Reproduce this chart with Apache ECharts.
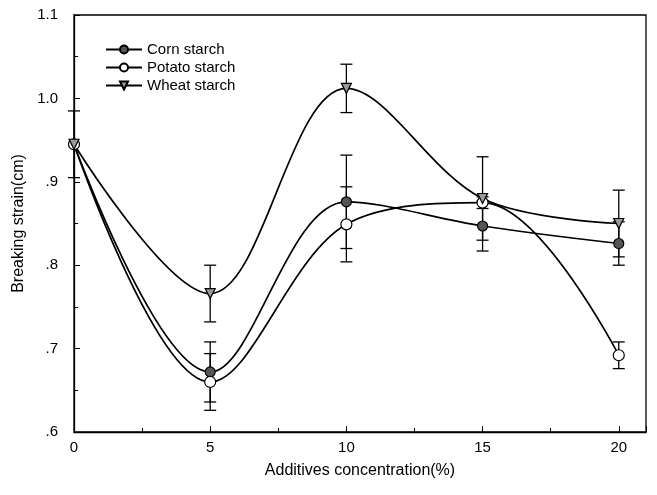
<!DOCTYPE html>
<html>
<head>
<meta charset="utf-8">
<script src="https://cdn.jsdelivr.net/npm/echarts@6/dist/echarts.min.js"></script>
<style>html,body{margin:0;padding:0;background:#fff}#c{width:657px;height:495px}</style>
</head>
<body>
<div id="c"></div>
<script>
var concentrations = [0, 5, 10, 15, 20];
var cornValues   = [0.945, 0.672, 0.876, 0.847, 0.826];
var potatoValues = [0.945, 0.660, 0.849, 0.875, 0.692];
var wheatValues  = [0.945, 0.766, 1.012, 0.880, 0.850];
var cornErr   = [0.000, 0.036, 0.056, 0.030, 0.026];
var potatoErr = [0.000, 0.034, 0.045, 0.007, 0.016];
var wheatErr  = [0.040, 0.034, 0.029, 0.050, 0.040];
var yTicks = [0.6, 0.7, 0.8, 0.9, 1.0, 1.1];
var yTickLabels = ['.6', '.7', '.8', '.9', '1.0', '1.1'];
var seriesNames = ['Corn starch', 'Potato starch', 'Wheat starch'];

function errData(vals, errs) {
  var out = [];
  for (var i = 0; i < concentrations.length; i++) {
    if (errs[i] > 0) out.push([concentrations[i], vals[i] - errs[i], vals[i] + errs[i]]);
  }
  return out;
}
function errSeries(vals, errs) {
  return {
    type: 'custom',
    silent: true,
    z: 1,
    data: errData(vals, errs),
    renderItem: function (params, api) {
      var x = api.value(0);
      var lo = api.coord([x, api.value(1)]);
      var hi = api.coord([x, api.value(2)]);
      var w = 6;
      var st = {stroke: '#000', lineWidth: 1.3};
      return {
        type: 'group',
        children: [
          {type: 'line', shape: {x1: lo[0], y1: lo[1], x2: hi[0], y2: hi[1]}, style: st},
          {type: 'line', shape: {x1: lo[0] - w, y1: lo[1], x2: lo[0] + w, y2: lo[1]}, style: st},
          {type: 'line', shape: {x1: hi[0] - w, y1: hi[1], x2: hi[0] + w, y2: hi[1]}, style: st}
        ]
      };
    }
  };
}
function pairs(vals) {
  return concentrations.map(function (c, i) { return [c, vals[i]]; });
}
var font = 'Liberation Sans, Arial, sans-serif';
var chart = echarts.init(document.getElementById('c'));
chart.setOption({
  animation: false,
  backgroundColor: '#fff',
  grid: {left: 74, right: 11, top: 15, bottom: 63, show: true, borderColor: '#000', borderWidth: 1.3},
  legend: {
    data: seriesNames,
    orient: 'vertical',
    left: 100, top: 37,
    itemWidth: 36, itemHeight: 10, itemGap: 3,
    textStyle: {fontFamily: font, fontSize: 15, color: '#000'}
  },
  xAxis: {
    type: 'value', min: 0, max: 21, interval: 5,
    axisLine: {show: true, onZero: false, lineStyle: {color: '#000', width: 1.3}},
    axisTick: {show: true, inside: true, length: 6, lineStyle: {color: '#000'}},
    minorTick: {show: true, splitNumber: 2, length: 4, lineStyle: {color: '#000'}},
    splitLine: {show: false},
    axisLabel: {fontFamily: font, fontSize: 15, color: '#000', margin: 8,
      formatter: function (v) { return v <= 20 ? String(v) : ''; }},
    name: 'Additives concentration(%)', nameLocation: 'middle', nameGap: 31,
    nameTextStyle: {fontFamily: font, fontSize: 16, color: '#000'}
  },
  yAxis: {
    type: 'value', min: 0.6, max: 1.1, interval: 0.1,
    axisLine: {show: true, onZero: false, lineStyle: {color: '#000', width: 1.3}},
    axisTick: {show: true, inside: true, length: 6, lineStyle: {color: '#000'}},
    minorTick: {show: true, splitNumber: 2, length: 4, lineStyle: {color: '#000'}},
    splitLine: {show: false},
    axisLabel: {fontFamily: font, fontSize: 15, color: '#000', margin: 16,
      formatter: function (v) {
        for (var i = 0; i < yTicks.length; i++) if (Math.abs(yTicks[i] - v) < 1e-6) return yTickLabels[i];
        return '';
      }},
    name: 'Breaking strain(cm)', nameLocation: 'middle', nameGap: 46, nameRotate: 90,
    nameTextStyle: {fontFamily: font, fontSize: 16, color: '#000'}
  },
  series: [
    errSeries(cornValues, cornErr),
    errSeries(potatoValues, potatoErr),
    errSeries(wheatValues, wheatErr),
    {name: seriesNames[0], type: 'line', smooth: 0.35, data: pairs(cornValues), z: 3,
      symbol: 'circle', symbolSize: 10,
      lineStyle: {color: '#000', width: 1.7},
      itemStyle: {color: '#555', borderColor: '#000', borderWidth: 1.2}},
    {name: seriesNames[1], type: 'line', smooth: 0.35, data: pairs(potatoValues), z: 3,
      symbol: 'circle', symbolSize: 11,
      lineStyle: {color: '#000', width: 1.7},
      itemStyle: {color: '#fff', borderColor: '#000', borderWidth: 1.2}},
    {name: seriesNames[2], type: 'line', smooth: 0.35, data: pairs(wheatValues), z: 3,
      symbol: 'triangle', symbolRotate: 180, symbolSize: 10,
      lineStyle: {color: '#000', width: 1.7},
      itemStyle: {color: '#999', borderColor: '#000', borderWidth: 1.2}}
  ]
});
</script>
</body>
</html>
